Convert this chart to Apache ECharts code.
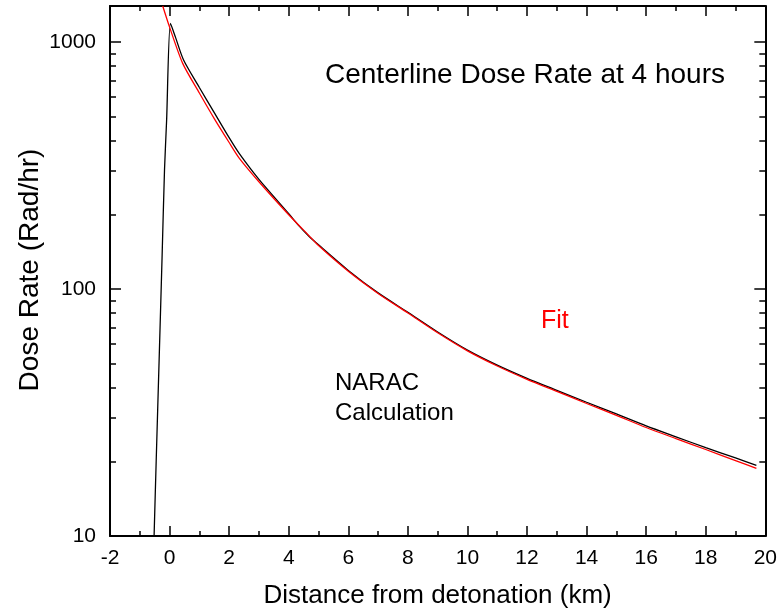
<!DOCTYPE html>
<html>
<head>
<meta charset="utf-8">
<script src="https://cdn.jsdelivr.net/npm/echarts@6/dist/echarts.min.js"></script>
<style>
html,body{margin:0;padding:0;background:#fff;}
#chart{width:780px;height:616px;}
</style>
</head>
<body>
<div id="chart"></div>
<script>
// Data
var xTickLabels = [-2, 0, 2, 4, 6, 8, 10, 12, 14, 16, 18, 20];
var yTickLabels = [10, 100, 1000];
var yMinorTicks = [20, 30, 40, 50, 60, 70, 80, 90, 200, 300, 400, 500, 600, 700, 800, 900];

// NARAC calculation (black)
var naracX = [-0.52, -0.45, -0.35, -0.25, -0.17, -0.1, 0.03, 0.2, 0.47, 1.0, 1.5, 2.0, 2.33, 3.0, 4.0, 4.33, 4.67, 5.0, 6.0, 7.0, 8.0, 9.0, 10.0, 11.0, 12.0, 13.0, 14.0, 15.0, 16.0, 17.0, 18.0, 19.0, 19.7];
var naracY = [10, 20, 52, 137, 304, 480, 1190, 1045, 846, 655, 518, 410, 355, 278, 202, 181, 164, 151, 119, 96.5, 80.5, 67, 56.6, 49.2, 43.5, 38.9, 34.8, 31.2, 27.9, 25.2, 22.8, 20.7, 19.3];

// Fit (red)
var fitX = [-0.23, 0.0, 0.44, 1.0, 1.5, 2.0, 2.33, 3.0, 4.0, 4.67, 5.0, 6.0, 7.0, 8.0, 9.0, 10.0, 11.0, 12.0, 13.0, 14.0, 15.0, 16.0, 17.0, 18.0, 19.0, 19.7];
var fitY = [1400, 1150, 820, 622, 490, 392, 340, 272, 200, 165, 150, 118, 96, 80, 66.5, 56.2, 48.8, 43.1, 38.5, 34.4, 30.8, 27.5, 24.8, 22.4, 20.2, 18.8];

function pairs(xs, ys) { return xs.map(function (x, i) { return [x, ys[i]]; }); }

var FONT = '"Liberation Sans", Arial, Helvetica, sans-serif';
var axisLineStyle = { color: '#000', width: 2 };

function xAxisDef(pos, showLabel) {
  return {
    type: 'value', position: pos, min: -2, max: 20, interval: 2,
    axisLine: { show: true, onZero: false, lineStyle: axisLineStyle },
    axisTick: { show: true, inside: true, length: 10, lineStyle: { color: '#000', width: 1.5 } },
    minorTick: { show: true, splitNumber: 2, length: 5, lineStyle: { color: '#000', width: 1.5 } },
    splitLine: { show: false }, minorSplitLine: { show: false },
    axisLabel: { show: showLabel, margin: 12, color: '#000', fontSize: 21, fontFamily: FONT,
      customValues: xTickLabels, formatter: function (v) { return String(v); } },
    name: showLabel ? 'Distance from detonation (km)' : '',
    nameLocation: 'middle', nameGap: 47,
    nameTextStyle: { color: '#000', fontSize: 26, fontFamily: FONT }
  };
}
function yAxisDef(pos, major, showLabel) {
  return {
    type: 'log', logBase: 10, position: pos, min: 10, max: 1400,
    axisLine: { show: major, onZero: false, lineStyle: axisLineStyle },
    axisTick: { show: true, inside: true, length: major ? 11 : 6,
      customValues: major ? yTickLabels : yMinorTicks,
      lineStyle: { color: '#000', width: 1.5 } },
    minorTick: { show: false },
    splitLine: { show: false },
    axisLabel: { show: showLabel, margin: 14, color: '#000', fontSize: 21, fontFamily: FONT,
      customValues: yTickLabels, formatter: function (v) { return String(Math.round(v)); } }
  };
}

var chart = echarts.init(document.getElementById('chart'), null, { renderer: 'canvas' });
chart.setOption({
  animation: false,
  backgroundColor: '#fff',
  grid: { left: 110, right: 12, top: 6, bottom: 80, containLabel: false },
  xAxis: [xAxisDef('bottom', true), xAxisDef('top', false)],
  yAxis: [yAxisDef('left', true, true), yAxisDef('left', false, false),
          yAxisDef('right', true, false), yAxisDef('right', false, false)],
  graphic: [
    { type: 'text', x: 30, y: 270, rotation: Math.PI / 2,
      style: { text: 'Dose Rate (Rad/hr)', fill: '#000', font: '28px ' + FONT, align: 'center', verticalAlign: 'middle' } },
    { type: 'text', left: 325, top: 61, style: { text: 'Centerline Dose Rate at 4 hours', fill: '#000', font: '28px ' + FONT } },
    { type: 'text', left: 541, top: 309, style: { text: 'Fit', fill: '#ff0000', font: '25px ' + FONT } },
    { type: 'text', left: 335, top: 371, style: { text: 'NARAC', fill: '#000', font: '24px ' + FONT } },
    { type: 'text', left: 335, top: 401, style: { text: 'Calculation', fill: '#000', font: '24px ' + FONT } }
  ],
  series: [
    { type: 'line', name: 'NARAC', xAxisIndex: 0, yAxisIndex: 0, data: pairs(naracX, naracY),
      showSymbol: false, symbol: 'none', smooth: 0.25,
      lineStyle: { color: '#000', width: 1.3 }, clip: true, z: 2 },
    { type: 'line', name: 'Fit', xAxisIndex: 0, yAxisIndex: 0, data: pairs(fitX, fitY),
      showSymbol: false, symbol: 'none', smooth: 0.25,
      lineStyle: { color: '#ff0000', width: 1.3 }, clip: true, z: 3 }
  ]
});
</script>
</body>
</html>
